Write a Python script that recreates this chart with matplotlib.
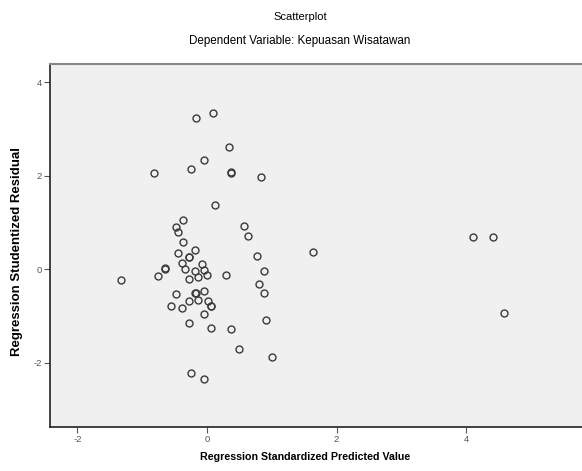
import matplotlib
matplotlib.use("Agg")
import matplotlib.pyplot as plt

plt.rcParams['font.family'] = ['Liberation Sans', 'DejaVu Sans']
plt.rcParams['axes.unicode_minus'] = False

predicted = [-0.174, 0.097, 0.332, -0.039, -0.242, -0.823, 0.366, 0.377, 0.833, 0.128,
             -0.375, -0.474, -0.448, 0.566, 0.633, 1.640, -0.375, -0.181, -0.448, -0.278,
             -0.272, 0.767, -0.653, -0.645, -0.756, -0.386, -0.344, -0.077, -0.181, -0.042,
             -0.005, -0.139, -0.282, 0.293, 0.872, 0.802, 0.872, -1.323, -0.474, -0.181,
             -0.174, -0.042, -0.551, -0.282, -0.139, 0.023, 0.062, 0.068, -0.381, -0.042,
             -0.282, 0.062, 0.363, 0.906, 0.498, 1.003, -0.247, -0.042, 4.105, 4.409, 4.583]
residual = [3.24, 3.34, 2.61, 2.34, 2.14, 2.05, 2.08, 2.07, 1.97, 1.37,
            1.05, 0.90, 0.80, 0.925, 0.705, 0.363, 0.583, 0.419, 0.342, 0.269,
            0.262, 0.284, 0.021, 0.015, -0.137, 0.128, 0.0, 0.107, -0.036, -0.015,
            -0.122, -0.171, -0.201, -0.122, -0.036, -0.303, -0.496, -0.222, -0.521, -0.513,
            -0.506, -0.470, -0.774, -0.677, -0.645, -0.682, -0.79, -0.784, -0.831, -0.949,
            -1.147, -1.254, -1.280, -1.090, -1.697, -1.874, -2.209, -2.344, 0.690, 0.697, -0.927]

x_ticks = [-2, 0, 2, 4]
y_ticks = [-2, 0, 2, 4]

fig = plt.figure(figsize=(5.82, 4.71), dpi=100)
ax = fig.add_axes([50/582, (471-427)/471, 1 - 50/582, (427-64)/471])
ax.set_facecolor('#f0f0f0')

ax.plot(predicted, residual, linestyle='none', marker='o', markersize=5,
        markerfacecolor='none', markeredgecolor='#3a3a3a', markeredgewidth=1.0)

ax.set_xlim(-2.423, 5.787)
ax.set_ylim(-3.37, 4.39)
ax.set_xticks(x_ticks)
ax.set_yticks(y_ticks)
ax.tick_params(direction='out', length=4, width=0.8, colors='#555555', labelsize=6.8, pad=2)

for s in ['left', 'bottom']:
    ax.spines[s].set_color('#222222')
    ax.spines[s].set_linewidth(1.2)
ax.spines['top'].set_color('#888888')
ax.spines['top'].set_linewidth(1.5)
ax.spines['right'].set_visible(False)

ax.set_xlabel('Regression Standardized Predicted Value', fontsize=7.7, fontweight='bold', va='center')
ax.xaxis.set_label_coords((305 - 50) / 532, (427 - 457) / 363)
ax.set_ylabel('Regression Studentized Residual', fontsize=9.5, fontweight='bold', va='center')
ax.yaxis.set_label_coords((17 - 50) / 532, (427 - 252) / 363)

fig.text(300/582, 1 - 17/471, 'Scatterplot', ha='center', va='center', fontsize=8)
fig.text(300/582, 1 - 41/471, 'Dependent Variable: Kepuasan Wisatawan', ha='center', va='center', fontsize=8.4)

fig.savefig('out.png', dpi=100, facecolor='white')
